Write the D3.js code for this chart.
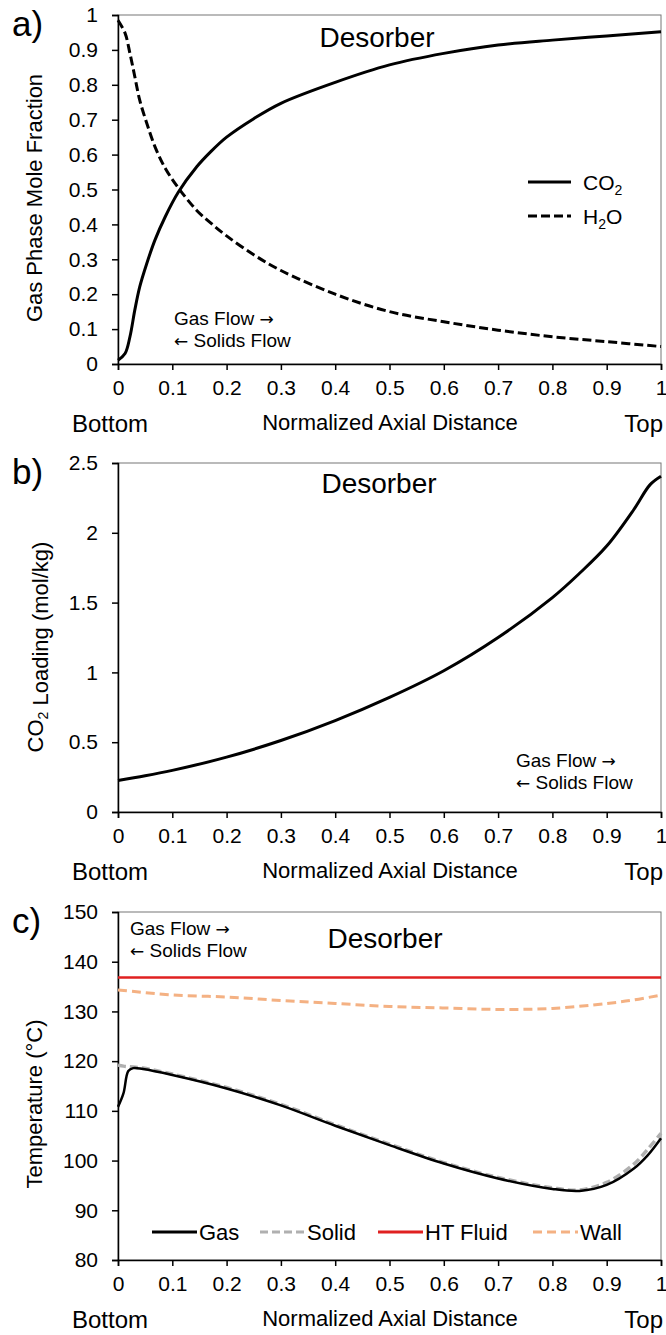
<!DOCTYPE html>
<html>
<head>
<meta charset="utf-8">
<script src="https://cdn.jsdelivr.net/npm/d3@7"></script>
<style>
  body { margin: 0; background: #fff; }
  svg text { font-family: "Liberation Sans", Arial, sans-serif; fill: #000; }
  .arrow { font-family: "DejaVu Sans", sans-serif; }
</style>
</head>
<body>
<div id="chart"></div>
<script>
// axial positions
var xA = [0, 0.013, 0.022, 0.031, 0.04, 0.053, 0.068, 0.087, 0.111, 0.145, 0.17, 0.2, 0.25, 0.3, 0.4, 0.5, 0.6, 0.7, 0.8, 0.9, 1];
var co2Frac = [0.011, 0.03, 0.078, 0.155, 0.221, 0.288, 0.355, 0.422, 0.492, 0.565, 0.607, 0.65, 0.703, 0.747, 0.807, 0.857, 0.89, 0.914, 0.928, 0.94, 0.952];
var h2oFrac = [0.985, 0.948, 0.89, 0.823, 0.756, 0.69, 0.623, 0.561, 0.505, 0.44, 0.405, 0.367, 0.313, 0.268, 0.2, 0.15, 0.121, 0.097, 0.078, 0.064, 0.05];

var xB = [0, 0.05, 0.1, 0.2, 0.3, 0.4, 0.5, 0.6, 0.7, 0.8, 0.85, 0.9, 0.95, 0.98, 1];
var co2Loading = [0.226, 0.259, 0.298, 0.393, 0.512, 0.655, 0.821, 1.012, 1.25, 1.536, 1.71, 1.905, 2.167, 2.345, 2.405];

var xC = [0, 0.01, 0.019, 0.028, 0.046, 0.1, 0.2, 0.3, 0.4, 0.5, 0.6, 0.7, 0.8, 0.85, 0.9, 0.95, 0.975, 1];
var gasTemp = [110.8, 113.5, 118.0, 118.6, 118.4, 117.2, 114.5, 111.1, 107.0, 103.1, 99.4, 96.4, 94.3, 93.9, 95.1, 98.4, 101.0, 104.5];
var solidTemp = [119.2, 119.0, 118.9, 118.8, 118.6, 117.4, 114.7, 111.3, 107.2, 103.3, 99.6, 96.6, 94.5, 94.1, 95.6, 99.3, 102.2, 105.5];
var xWall = [0, 0.03, 0.1, 0.2, 0.3, 0.4, 0.5, 0.6, 0.7, 0.8, 0.9, 0.95, 1];
var wallTemp = [134.3, 134.0, 133.3, 132.9, 132.2, 131.6, 131.0, 130.7, 130.4, 130.6, 131.6, 132.3, 133.3];
var xFluid = [0, 1];
var fluidTemp = [136.8, 136.8];

var xTicks = [0, 0.1, 0.2, 0.3, 0.4, 0.5, 0.6, 0.7, 0.8, 0.9, 1];
var yTicksA = [0, 0.1, 0.2, 0.3, 0.4, 0.5, 0.6, 0.7, 0.8, 0.9, 1];
var yTicksB = [0, 0.5, 1, 1.5, 2, 2.5];
var yTicksC = [80, 90, 100, 110, 120, 130, 140, 150];

var W = 666, H = 1335;
var left = 118, right = 661;

var svg = d3.select("#chart").append("svg")
  .attr("width", W)
  .attr("height", H);

var x = d3.scaleLinear().domain([0, 1]).range([left, right]);

function zip(xs, ys) {
  return xs.map(function (d, i) { return [d, ys[i]]; });
}

// one panel: frame, axes, labels
function drawPanel(p) {
  var y = d3.scaleLinear().domain(p.domain).range([p.bottom, p.top]);
  var g = svg.append("g");

  // grey frame round the plot area
  g.append("rect")
    .attr("x", left).attr("y", p.top)
    .attr("width", right - left).attr("height", p.bottom - p.top)
    .attr("fill", "none").attr("stroke", "#777").attr("stroke-width", 1);

  var yAxis = g.append("g")
    .attr("transform", "translate(" + left + ",0)")
    .call(d3.axisLeft(y).tickValues(p.yTicks).tickSize(6).tickPadding(14).tickFormat(d3.format("")));
  var xAxis = g.append("g")
    .attr("transform", "translate(0," + p.bottom + ")")
    .call(d3.axisBottom(x).tickValues(xTicks).tickSize(6).tickPadding(10).tickFormat(d3.format("")));

  [yAxis, xAxis].forEach(function (ax) {
    ax.select(".domain").attr("stroke", "#000").attr("stroke-width", 1.5);
    ax.selectAll(".tick line").attr("stroke", "#000").attr("stroke-width", 1.5);
    ax.selectAll("text").style("font-size", "21px").attr("fill", "#000");
  });

  // lines
  var line = d3.line()
    .x(function (d) { return x(d[0]); })
    .y(function (d) { return y(d[1]); })
    .curve(d3.curveCatmullRom.alpha(0.5));

  p.series.forEach(function (s) {
    g.append("path")
      .datum(zip(s.xs, s.ys))
      .attr("d", line)
      .attr("fill", "none")
      .attr("stroke", s.color)
      .attr("stroke-width", s.width)
      .attr("stroke-dasharray", s.dash || null);
  });

  // bottom labels
  g.append("text").attr("x", 72).attr("y", p.bottom + 68)
    .style("font-size", "24px").text("Bottom");
  g.append("text").attr("x", 663).attr("y", p.bottom + 68)
    .attr("text-anchor", "end").style("font-size", "24px").text("Top");
  g.append("text").attr("x", 390).attr("y", p.bottom + 66)
    .attr("text-anchor", "middle").style("font-size", "22px").text("Normalized Axial Distance");

  // panel letter
  g.append("text").attr("x", 12).attr("y", p.top + 21)
    .style("font-size", "35px").text(p.letter);

  // title inside plot
  g.append("text").attr("x", p.titleX).attr("y", p.titleY)
    .attr("text-anchor", "middle").style("font-size", "28px").text("Desorber");

  // y axis title
  var yt = g.append("text")
    .attr("transform", "translate(" + p.yTitleX + "," + p.yTitleY + ") rotate(-90)")
    .attr("text-anchor", "middle").style("font-size", "22px");
  p.yTitle.forEach(function (part) {
    if (part.sub) {
      yt.append("tspan").attr("dy", 5).style("font-size", "14px").text(part.t);
      yt.append("tspan").attr("dy", -5).text("");
    } else {
      yt.append("tspan").text(part.t);
    }
  });

  // flow note
  var f1 = g.append("text").attr("x", p.flowX).attr("y", p.flowY).style("font-size", "19px");
  f1.append("tspan").text("Gas Flow ");
  f1.append("tspan").attr("class", "arrow").style("font-size", "17px").text("\u2192");
  var f2 = g.append("text").attr("x", p.flowX).attr("y", p.flowY + 22).style("font-size", "19px");
  f2.append("tspan").attr("class", "arrow").style("font-size", "17px").text("\u2190");
  f2.append("tspan").text(" Solids Flow");

  return { g: g, y: y };
}

// a) gas phase mole fraction
var pa = drawPanel({
  top: 15, bottom: 364, domain: [0, 1], yTicks: yTicksA, letter: "a)",
  titleX: 377, titleY: 47,
  yTitle: [{ t: "Gas Phase Mole Fraction" }], yTitleX: 42, yTitleY: 198,
  flowX: 174, flowY: 325,
  series: [
    { xs: xA, ys: co2Frac, color: "#000", width: 3 },
    { xs: xA, ys: h2oFrac, color: "#000", width: 3, dash: "9,4" }
  ]
});

var legA = pa.g.append("g");
legA.append("line").attr("x1", 528).attr("x2", 571).attr("y1", 182).attr("y2", 182)
  .attr("stroke", "#000").attr("stroke-width", 3);
legA.append("line").attr("x1", 528).attr("x2", 571).attr("y1", 216).attr("y2", 216)
  .attr("stroke", "#000").attr("stroke-width", 3).attr("stroke-dasharray", "9,4");
var tCo2 = legA.append("text").attr("x", 583).attr("y", 190).style("font-size", "21px");
tCo2.append("tspan").text("CO");
tCo2.append("tspan").attr("dy", 5).style("font-size", "14px").text("2");
var tH2o = legA.append("text").attr("x", 583).attr("y", 224).style("font-size", "21px");
tH2o.append("tspan").text("H");
tH2o.append("tspan").attr("dy", 5).style("font-size", "14px").text("2");
tH2o.append("tspan").attr("dy", -5).text("O");

// b) solid loading
drawPanel({
  top: 463, bottom: 812, domain: [0, 2.5], yTicks: yTicksB, letter: "b)",
  titleX: 379, titleY: 493,
  yTitle: [{ t: "CO" }, { t: "2", sub: true }, { t: " Loading (mol/kg)" }], yTitleX: 43, yTitleY: 647,
  flowX: 516, flowY: 767,
  series: [
    { xs: xB, ys: co2Loading, color: "#000", width: 3 }
  ]
});

// c) temperatures
var pc = drawPanel({
  top: 912, bottom: 1260, domain: [80, 150], yTicks: yTicksC, letter: "c)",
  titleX: 385, titleY: 948,
  yTitle: [{ t: "Temperature (\u00B0C)" }], yTitleX: 42, yTitleY: 1104,
  flowX: 130, flowY: 935,
  series: [
    { xs: xFluid, ys: fluidTemp, color: "#e02020", width: 2.5 },
    { xs: xWall, ys: wallTemp, color: "#f4b183", width: 3, dash: "9,5" },
    { xs: xC, ys: solidTemp, color: "#b0b0b0", width: 3.5, dash: "8,4" },
    { xs: xC, ys: gasTemp, color: "#000", width: 2.5 }
  ]
});

var legendC = [
  { name: "Gas", color: "#000", dash: null, width: 3, x1: 152, x2: 197 },
  { name: "Solid", color: "#b0b0b0", dash: "8,4", width: 3, x1: 260, x2: 305 },
  { name: "HT Fluid", color: "#e02020", dash: null, width: 3, x1: 378, x2: 423 },
  { name: "Wall", color: "#f4b183", dash: "9,5", width: 3, x1: 533, x2: 578 }
];
var legC = pc.g.append("g");
legendC.forEach(function (d) {
  legC.append("line").attr("x1", d.x1).attr("x2", d.x2).attr("y1", 1232).attr("y2", 1232)
    .attr("stroke", d.color).attr("stroke-width", d.width).attr("stroke-dasharray", d.dash);
  legC.append("text").attr("x", d.x2 + 2).attr("y", 1240).style("font-size", "22px").text(d.name);
});
</script>
</body>
</html>
